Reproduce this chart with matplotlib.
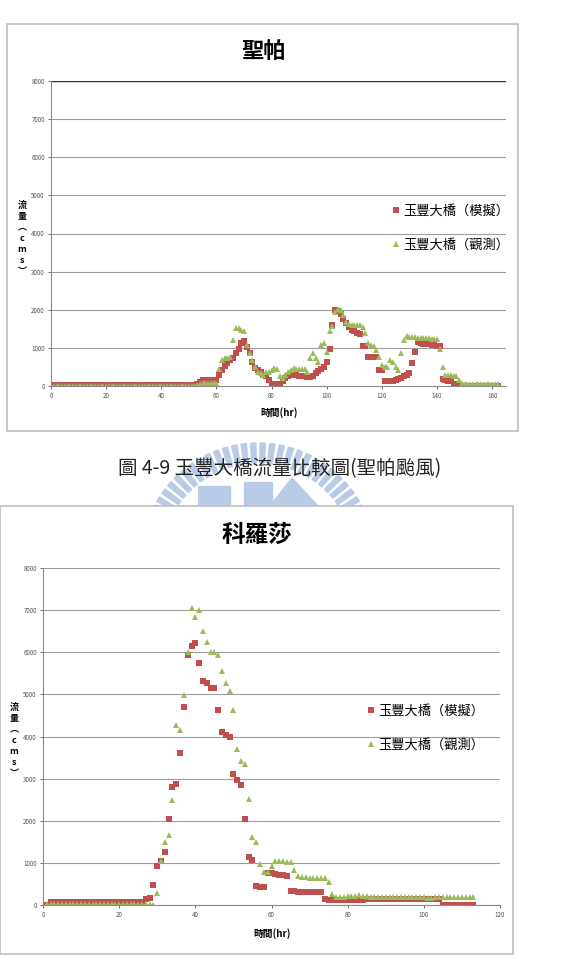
import matplotlib
matplotlib.use("Agg")
import matplotlib.pyplot as plt
import numpy as np
from matplotlib.patches import Rectangle, Wedge, Polygon
from matplotlib.transforms import IdentityTransform

plt.rcParams['font.family'] = ['Noto Sans CJK TC', 'DejaVu Sans']

# ---- 聖帕 (top chart), hourly values ----
sp_hours = np.arange(0, 163)
sp_model = [20] * 53 + [
    50, 110, 150, 160, 160, 160, 150, 160, 280, 430,
    520, 600, 690, 730, 860, 960, 1120, 1170, 1030, 860,
    640, 470, 430, 380, 300, 250, 170, 50, 40, 40,
    50, 120, 210, 250, 280, 280, 280, 270, 270, 260,
    240, 240, 270, 340, 400, 440, 510, 640, 960, 1600,
    2000, 1970, 1900, 1770, 1640, 1560, 1470, 1430, 1390, 1370,
    1040, 1040, 770, 760, 750, 750, 430, 430, 120, 120,
    120, 130, 150, 180, 210, 250, 300, 340, 600, 900,
    1150, 1130, 1110, 1100, 1090, 1080, 1070, 1060, 1040, 180,
    160, 140, 120, 60, 20] + [10] * 15
sp_obs = [10] * 53 + [
    30, 60, 80, 80, 80, 80, 80, 90, 440, 690,
    730, 740, 750, 1210, 1510, 1510, 1470, 1430, 1070, 860,
    670, 510, 380, 340, 300, 360, 380, 430, 470, 440,
    250, 210, 300, 360, 430, 470, 440, 450, 440, 440,
    380, 730, 860, 730, 640, 1070, 1120, 900, 1430, 1580,
    1950, 2030, 1990, 1860, 1690, 1630, 1600, 1600, 1600, 1600,
    1560, 1390, 1120, 1070, 1040, 950, 770, 550, 510, 510,
    690, 640, 510, 430, 860, 1210, 1300, 1290, 1280, 1280,
    1270, 1260, 1260, 1250, 1250, 1240, 1240, 1230, 970, 510,
    300, 280, 280, 270, 260, 165, 80] + [40] * 13

# ---- 科羅莎 (bottom chart) ----
kr_hours = np.arange(1, 114)
kr_model = [0] + [70] * 25 + [
    140, 170, 480, 920, 1050, 1270, 2030, 2790, 2870, 3620,
    4690, 5930, 6150, 6210, 5740, 5320, 5270, 5150, 5150, 4640,
    4100, 4040, 3980, 3110, 2970, 2860, 2050, 1140, 1080, 460,
    420, 420, 760, 750, 740, 720, 710, 700, 340, 340,
    320, 320, 310, 300, 300, 300, 300, 140, 130, 120,
    110, 110, 110, 110, 120, 120, 120, 120, 150, 150,
    150, 150, 150, 150, 150, 150, 150, 150, 150, 150,
    150, 140, 140, 140, 140, 140, 140, 140] + [0] * 9
kr_obs = [20] * 28 + [
    0, 290, 1040, 1500, 1650, 2500, 4280, 4160, 4990, 6000,
    7040, 6840, 7010, 6500, 6240, 6000, 6000, 5930, 5560, 5270,
    5080, 4640, 3700, 3430, 3350, 2520, 1610, 1490, 980, 780,
    780, 930, 1050, 1040, 1040, 1030, 1020, 820, 680, 660,
    660, 650, 650, 650, 650, 640, 550, 260,
    190, 190, 200, 220, 220, 220, 230, 220, 210, 200,
    190, 190, 190, 190, 190, 190, 190, 190, 190, 190,
    180, 180, 180, 180, 170, 170, 180, 180, 180, 180,
    180, 180, 180, 190, 190, 190, 190]

yticks = np.arange(0, 8001, 1000)
lbl_model = '玉豐大橋（模擬）'
lbl_obs = '玉豐大橋（觀測）'
red = '#C0504D'
green = '#9BBB59'

W, H = 564, 961
fig = plt.figure(figsize=(W / 100, H / 100), dpi=100)
pix = IdentityTransform()


def px(x0, y0, x1, y1):
    # pixel box -> figure rect
    return [x0 / W, 1 - y1 / H, (x1 - x0) / W, (y1 - y0) / H]


# top chart frame
fig.patches.append(Rectangle((7, H - 431), 511, 407, transform=pix,
                             fill=False, edgecolor='#BDBDBD', lw=1.2, zorder=0))

# faint watermark (school logo) between the charts
wm = '#BACBE8'
for a in np.linspace(22, 158, 30):
    fig.patches.append(Wedge((258, H - 560), 117, a - 1.3, a + 1.3, width=20,
                             transform=pix, color=wm, zorder=0))
fig.patches.append(Rectangle((198, H - 506), 32, 20, transform=pix, color=wm, zorder=0))
fig.patches.append(Rectangle((244, H - 506), 28, 24, transform=pix, color=wm, zorder=0))
fig.patches.append(Polygon([(270, H - 506), (292, H - 478), (318, H - 506)], closed=True,
                           transform=pix, color=wm, zorder=0))

# bottom chart frame (opaque, hides rest of the logo)
fig.patches.append(Rectangle((0, H - 954), 513, 448, transform=pix,
                             facecolor='white', edgecolor='#BDBDBD', lw=1.2, zorder=0.5))


def style(ax, xmax, xticks, top_line):
    ax.set_ylim(0, 8000)
    ax.set_xlim(0, xmax)
    ax.set_yticks(yticks)
    ax.set_xticks(xticks)
    ax.tick_params(labelsize=4.5, colors='#555', length=2.5, width=0.6, pad=2)
    ax.grid(axis='y', color='#9E9E9E', lw=0.8)
    for s in ['top', 'right']:
        ax.spines[s].set_visible(False)
    ax.spines['left'].set_color('#8C8C8C')
    ax.spines['bottom'].set_color('#8C8C8C')
    if top_line:
        ax.axhline(8000, color='#333333', lw=1.0)
    ax.set_axisbelow(True)
    ax.patch.set_alpha(0)


ylab = '流\n量\n︵\nc\nm\ns\n︶'

# top chart
ax1 = fig.add_axes(px(51, 81, 506, 386))
ax1.plot(sp_hours, sp_model, 's', color=red, ms=4.5, mew=0, label=lbl_model)
ax1.plot(sp_hours, sp_obs, '^', color=green, ms=4.5, mew=0, label=lbl_obs)
style(ax1, 165, np.arange(0, 161, 20), True)
ax1.legend(loc='upper left', bbox_to_anchor=(0.75, 0.595), frameon=False, fontsize=9.5,
           handlelength=0.5, handletextpad=0.35, labelspacing=1.6, borderpad=0, borderaxespad=0,
           markerscale=1.1)
fig.text(263 / W, 1 - 52 / H, '聖帕', ha='center', va='center', fontsize=16, fontweight='bold')
fig.text(279 / W, 1 - 413 / H, '時間(hr)', ha='center', va='center', fontsize=7, fontweight='bold')
fig.text(22 / W, 1 - 238 / H, ylab, ha='center', va='center', fontsize=6.5,
         fontweight='bold', linespacing=1.3)

fig.text(280 / W, 1 - 469 / H, '圖 4-9 玉豐大橋流量比較圖(聖帕颱風)', ha='center', va='center',
         fontsize=14, color='#222')

# bottom chart
ax2 = fig.add_axes(px(43, 568, 500, 905))
ax2.set_zorder(2)
ax2.plot(kr_hours, kr_model, 's', color=red, ms=4.5, mew=0, label=lbl_model)
ax2.plot(kr_hours, kr_obs, '^', color=green, ms=4.5, mew=0, label=lbl_obs)
style(ax2, 120, np.arange(0, 121, 20), False)
ax2.legend(loc='upper left', bbox_to_anchor=(0.71, 0.595), frameon=False, fontsize=9.5,
           handlelength=0.5, handletextpad=0.35, labelspacing=1.6, borderpad=0, borderaxespad=0,
           markerscale=1.1)
fig.text(257 / W, 1 - 535 / H, '科羅莎', ha='center', va='center', fontsize=17, fontweight='bold',
         zorder=3)
fig.text(272 / W, 1 - 934 / H, '時間(hr)', ha='center', va='center', fontsize=7, fontweight='bold',
         zorder=3)
fig.text(14 / W, 1 - 740 / H, ylab, ha='center', va='center', fontsize=6.5,
         fontweight='bold', linespacing=1.3, zorder=3)

fig.savefig('out.png', dpi=100)
